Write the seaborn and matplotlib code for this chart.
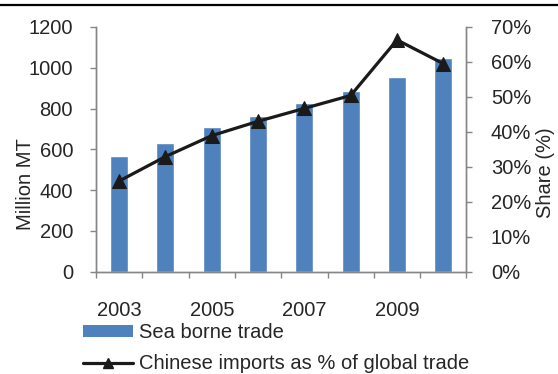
import matplotlib
matplotlib.use("Agg")
import matplotlib.pyplot as plt
import seaborn as sns
import pandas as pd
from matplotlib.patches import Patch
from matplotlib.lines import Line2D
from matplotlib.ticker import FuncFormatter, FixedLocator

years = [2003, 2004, 2005, 2006, 2007, 2008, 2009, 2010]
sea_borne_trade = [568, 630, 710, 764, 828, 886, 953, 1047]   # million MT
chinese_share = [25.9, 32.9, 38.9, 43.0, 46.7, 50.4, 66.3, 59.5]  # percent
year_labels = ["2003", "", "2005", "", "2007", "", "2009", ""]

bar_label = "Sea borne trade"
line_label = "Chinese imports as % of global trade"

sns.set_theme(style="white")
plt.rcParams["font.family"] = ["Liberation Sans", "DejaVu Sans"]

df = pd.DataFrame({"year": [str(y) for y in years],
                   "trade": sea_borne_trade,
                   "share": chinese_share,
                   "pos": range(len(years))})

fig = plt.figure(figsize=(5.58, 3.74), dpi=100)
ax = fig.add_axes([96 / 558, 1 - 271.5 / 374, (466.5 - 96) / 558, (271.5 - 27) / 374])

bar_color = "#4F81BD"
spine_color = "#868686"
line_color = "#1a1a1a"
fs = 14.5

sns.barplot(data=df, x="year", y="trade", color=bar_color, width=0.39,
            saturation=1, ax=ax, errorbar=None)
ax.set_xlim(-0.5, len(years) - 0.5)
ax.set_ylim(0, 1200)
ax.set_yticks(range(0, 1201, 200))
ax.set_xlabel("")
ax.set_ylabel("Million MT", fontsize=fs)
ax.yaxis.set_label_coords(-61 / 370.5, (271.5 - 184) / 244.5)
ax.set_xticks(range(len(years)))
ax.set_xticklabels(year_labels, fontsize=fs)
ax.xaxis.set_minor_locator(FixedLocator([i - 0.5 for i in range(len(years) + 1)]))
ax.tick_params(axis="x", which="major", length=0, pad=21)
ax.tick_params(axis="x", which="minor", length=4, color=spine_color, width=1,
               bottom=True)
ax.tick_params(axis="y", length=4.5, color=spine_color, width=1, labelsize=fs,
               left=True, pad=12)

ax2 = ax.twinx()
sns.lineplot(data=df, x="pos", y="share", color=line_color, linewidth=2.3,
             marker="^", markersize=9.5, markeredgecolor=line_color, ax=ax2)
ax2.set_ylim(0, 70)
ax2.set_yticks(range(0, 71, 10))
ax2.yaxis.set_major_formatter(FuncFormatter(lambda v, p: f"{int(v)}%"))
ax2.set_ylabel("Share (%)", fontsize=fs)
ax2.yaxis.set_label_coords(1 + 69.5 / 370.5, (271.5 - 173) / 244.5)
ax2.set_xlabel("")
ax2.tick_params(axis="y", length=4.5, color=spine_color, width=1, labelsize=fs,
                right=True, pad=13)
ax2.set_xlim(-0.5, len(years) - 0.5)

for a in (ax, ax2):
    a.spines["top"].set_visible(False)
    for side in ("left", "right", "bottom"):
        a.spines[side].set_color(spine_color)
        a.spines[side].set_linewidth(1)

handles = [Patch(facecolor=bar_color, edgecolor="none", label=bar_label),
           Line2D([], [], color=line_color, linewidth=2.3, marker="^",
                  markersize=7.5, label=line_label)]
fig.legend(handles=handles, loc="upper left",
           bbox_to_anchor=(83 / 558, 1 - 323 / 374), frameon=False,
           fontsize=fs, handlelength=2.5, handleheight=0.5,
           handletextpad=0.28, labelspacing=0.62, borderpad=0,
           borderaxespad=0)

# rule across the top of the figure
fig.add_artist(Line2D([0, 1], [1 - 5 / 374, 1 - 5 / 374], color="black",
                      linewidth=1.6, transform=fig.transFigure))

fig.savefig("out.png", dpi=100)
